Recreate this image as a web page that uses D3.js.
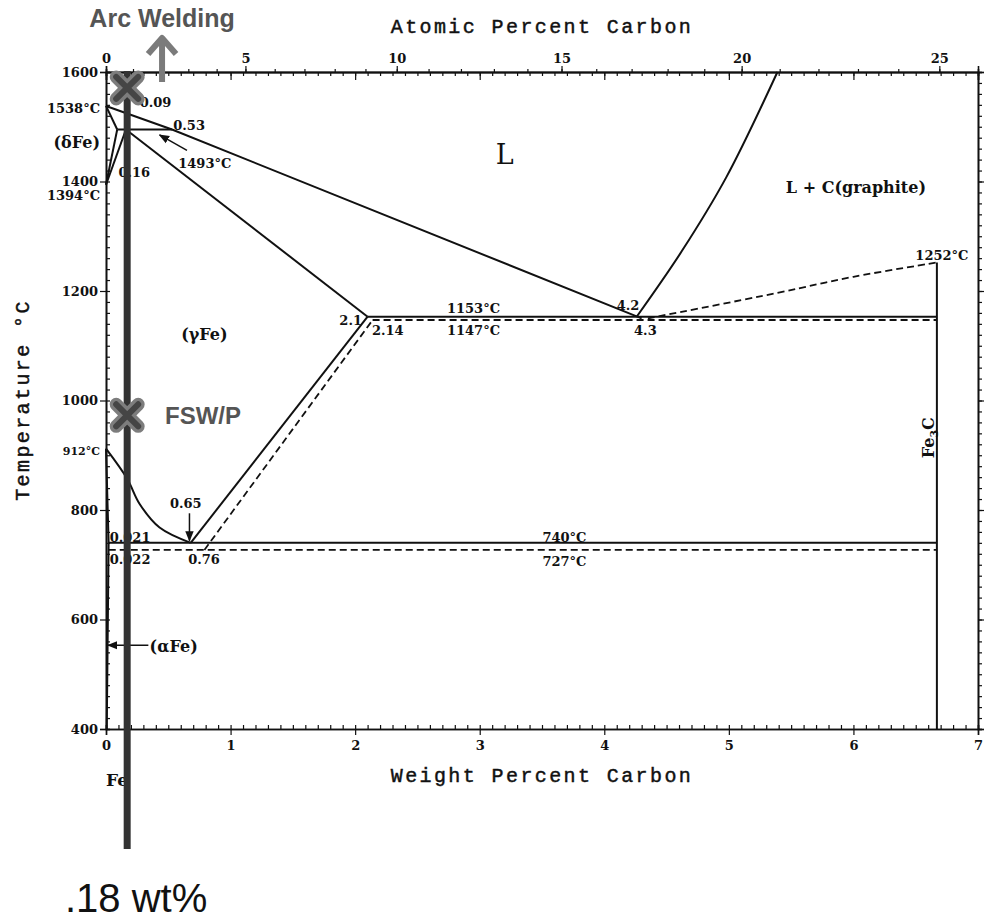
<!DOCTYPE html>
<html>
<head>
<meta charset="utf-8">
<script src="https://cdn.jsdelivr.net/npm/d3@7"></script>
<style>
  body { margin: 0; background: #fff; }
  svg text { font-family: "DejaVu Serif", serif; fill: #111; }
  .tick text { font-family: "DejaVu Serif", serif; font-weight: bold; font-size: 13px; }
  .axis path, .axis line { stroke: #111; }
  .axis-title { font-family: "Liberation Mono", monospace !important; font-size: 20px; letter-spacing: 2.4px; stroke: #111; stroke-width: 0.45px; }
  .lbl { font-weight: bold; font-size: 13px; }
  .phase { font-weight: bold; font-size: 16px; }
  .overlay { font-family: "Liberation Sans", Arial, sans-serif !important; font-weight: bold; fill: #555 !important; }
</style>
</head>
<body>
<svg id="chart" width="984" height="920"></svg>
<script>
// 目盛り
const tempTicks = [400, 600, 800, 1000, 1200, 1400, 1600];
const wtTicks = [0, 1, 2, 3, 4, 5, 6, 7];
const atTicks = [0, 5, 10, 15, 20, 25];

// 相境界 [wt% C, °C]
const liquidus = [[0, 1538], [0.53, 1495], [4.3, 1150]];
const deltaSolidus = [[0, 1538], [0.09, 1495]];
const deltaGamma = [[0.09, 1495], [0, 1394]];
const gammaDelta = [[0.16, 1495], [0, 1394]];
const peritectic = [[0.09, 1495], [0.53, 1495]];
const gammaSolidus = [[0.16, 1495], [2.1, 1153]];
const graphiteLiquidus = [[4.26, 1153], [4.62, 1272], [4.98, 1408], [5.39, 1600]];
const graphiteSolvus = [[4.35, 1150], [5.4, 1197], [6.0, 1226], [6.67, 1252]];
const cementite = [[6.67, 400], [6.67, 1252]];
const eutecticSolid = [[2.1, 1153], [6.67, 1153]];
const eutecticDashed = [[2.14, 1147], [6.67, 1147]];
const a3Line = [[0, 912], [0.17, 857], [0.27, 811], [0.43, 768], [0.68, 740]];
const acmSolid = [[0.68, 740], [2.1, 1153]];
const acmDashed = [[0.79, 727], [2.14, 1147]];
const eutectoidSolid = [[0.021, 740], [6.67, 740]];
const eutectoidDashed = [[0.022, 727], [6.67, 727]];
const alphaSolvus = [[0, 912], [0.021, 740], [0.006, 400]];

const solidLines = [liquidus, deltaSolidus, deltaGamma, gammaDelta, peritectic, gammaSolidus,
  graphiteLiquidus, cementite, eutecticSolid, a3Line, acmSolid, eutectoidSolid, alphaSolvus];
const dashedLines = [graphiteSolvus, eutecticDashed, acmDashed, eutectoidDashed];
const curvedLines = [a3Line, graphiteLiquidus, graphiteSolvus];

// ラベル [テキスト, wt%, °C]
const labelsStart = [['0.09', 0.27, 1536], ['0.53', 0.54, 1494], ['1493°C', 0.58, 1425], ['0.16', 0.10, 1408],
  ['2.14', 2.135, 1120], ['0.021', 0.03, 742], ['0.022', 0.03, 701], ['0.76', 0.66, 701]];
const labelsMiddle = [['1153°C', 2.95, 1160], ['1147°C', 2.95, 1120], ['4.2', 4.19, 1165], ['4.3', 4.33, 1120],
  ['1252°C', 6.71, 1257], ['0.65', 0.64, 803], ['740°C', 3.68, 742], ['727°C', 3.68, 698]];
const labelsEnd = [['2.1', 2.055, 1138], ['1538°C', -0.048, 1525], ['1394°C', -0.048, 1366], ['912°C', -0.048, 900]];
const phaseNames = [['(γFe)', 0.79, 1110], ['L + C(graphite)', 6.02, 1379]];
const arrows = [[[0.65, 1457], [0.43, 1485]], [[0.67, 794], [0.67, 744]], [[0.34, 553], [0.015, 553]]];

// 溶接の注記
const weldBarWt = 0.17;
const weldLabel = '.18 wt%';
const processMarks = [['Arc Welding', 1571], ['FSW/P', 973]];

const svg = d3.select('#chart');
const x = d3.scaleLinear().domain([0, 7]).range([106, 978]);
const y = d3.scaleLinear().domain([400, 1600]).range([729, 72]);
const atToWt = a => 100 * a * 12.011 / (a * 12.011 + (100 - a) * 55.845);
const wtToAt = w => 100 * (w / 12.011) / (w / 12.011 + (100 - w) / 55.845);
const minorWt = d3.range(0, 71).map(i => i / 10);
const minorT = d3.range(400, 1601, 20);
const minorAt = d3.range(0, 26);

svg.append('defs').append('marker')
  .attr('id', 'head').attr('viewBox', '0 0 10 10').attr('refX', 9).attr('refY', 5)
  .attr('markerWidth', 7).attr('markerHeight', 7).attr('orient', 'auto')
  .append('path').attr('d', 'M0,1L10,5L0,9Z').attr('fill', '#111');

// 軸
function axisGroup(axis, tx, ty) {
  const g = svg.append('g').attr('class', 'axis').attr('transform', `translate(${tx},${ty})`).call(axis);
  g.select('.domain').attr('stroke-width', 1.6);
  g.selectAll('.tick line').attr('stroke-width', 1.2);
  return g;
}
const fmt = d3.format('d');
// 左
axisGroup(d3.axisRight(y).tickValues(minorT).tickSize(4).tickFormat(''), 106, 0);
axisGroup(d3.axisLeft(y).tickValues(tempTicks).tickSize(6).tickPadding(2).tickFormat(fmt), 106, 0);
// 右
axisGroup(d3.axisRight(y).tickValues(minorT).tickSize(4).tickFormat(''), 978, 0);
axisGroup(d3.axisRight(y).tickValues(tempTicks).tickSize(8).tickFormat(''), 978, 0);
// 下
axisGroup(d3.axisTop(x).tickValues(minorWt).tickSize(4).tickFormat(''), 0, 729);
axisGroup(d3.axisBottom(x).tickValues(wtTicks).tickSize(6).tickPadding(6).tickFormat(fmt), 0, 729);
// 上
axisGroup(d3.axisBottom(x).tickValues(minorWt).tickSize(4).tickFormat(''), 0, 72);
axisGroup(d3.axisBottom(x).tickValues(wtTicks).tickSize(8).tickFormat(''), 0, 72);
axisGroup(d3.axisTop(x).tickValues(minorAt.map(atToWt)).tickSize(3).tickFormat(''), 0, 72);
axisGroup(d3.axisTop(x).tickValues(atTicks.map(atToWt)).tickSize(6).tickPadding(3)
  .tickFormat(d => Math.round(wtToAt(d))), 0, 72);

svg.append('text').attr('class', 'axis-title').attr('x', 542).attr('y', 33)
  .attr('text-anchor', 'middle').text('Atomic Percent Carbon');
svg.append('text').attr('class', 'axis-title').attr('x', 542).attr('y', 782)
  .attr('text-anchor', 'middle').text('Weight Percent Carbon');
svg.append('text').attr('class', 'axis-title')
  .attr('transform', 'translate(29,400) rotate(-90)').attr('text-anchor', 'middle').text('Temperature °C');
svg.append('text').attr('class', 'phase').attr('x', x(0)).attr('y', 786).style('font-size', '17px').text('Fe');

// 相境界線
const line = d3.line().x(d => x(d[0])).y(d => y(d[1]));
const curve = d3.line().x(d => x(d[0])).y(d => y(d[1])).curve(d3.curveCatmullRom);
const pathOf = d => curvedLines.includes(d) ? curve(d) : line(d);
svg.append('g').selectAll('path').data(solidLines).join('path')
  .attr('d', pathOf)
  .attr('fill', 'none').attr('stroke', '#111').attr('stroke-width', 2);
svg.append('g').selectAll('path').data(dashedLines).join('path')
  .attr('d', pathOf)
  .attr('fill', 'none').attr('stroke', '#111').attr('stroke-width', 1.8).attr('stroke-dasharray', '7,4');

svg.append('g').selectAll('line').data(arrows).join('line')
  .attr('x1', d => x(d[0][0])).attr('y1', d => y(d[0][1]))
  .attr('x2', d => x(d[1][0])).attr('y2', d => y(d[1][1]))
  .attr('stroke', '#111').attr('stroke-width', 1.5).attr('marker-end', 'url(#head)');

// ラベル
[[labelsStart, 'start'], [labelsMiddle, 'middle'], [labelsEnd, 'end']].forEach(([arr, anchor]) => {
  svg.append('g').selectAll('text').data(arr).join('text')
    .attr('class', 'lbl').attr('text-anchor', anchor)
    .attr('x', d => x(d[1])).attr('y', d => y(d[2])).text(d => d[0]);
});
svg.selectAll('.lbl').filter(d => d[0] === '912°C').style('font-size', '11px');
svg.append('g').selectAll('text').data(phaseNames).join('text')
  .attr('class', 'phase').attr('text-anchor', 'middle')
  .attr('x', d => x(d[1])).attr('y', d => y(d[2])).text(d => d[0]);
svg.append('text').attr('class', 'phase').attr('text-anchor', 'end')
  .attr('x', x(-0.048)).attr('y', y(1461)).text('(δFe)');
svg.append('text').attr('class', 'phase').attr('x', x(0.35)).attr('y', y(540)).text('(αFe)');
svg.append('text').attr('x', x(3.2)).attr('y', y(1432)).attr('text-anchor', 'middle')
  .style('font-size', '27px').text('L');
const fe3c = svg.append('text').attr('class', 'phase').attr('text-anchor', 'middle')
  .attr('transform', `translate(${x(6.6) + 6},${y(932)}) rotate(-90)`);
fe3c.append('tspan').text('Fe');
fe3c.append('tspan').attr('dy', 4).style('font-size', '11px').text('3');
fe3c.append('tspan').attr('dy', -4).text('C');

// 溶接の注記
const barX = x(weldBarWt);
svg.append('line').attr('x1', barX).attr('x2', barX).attr('y1', y(1600) - 1).attr('y2', y(400) + 120)
  .attr('stroke', '#333').attr('stroke-width', 7);
const marks = svg.append('g').selectAll('g').data(processMarks).join('g')
  .attr('transform', d => `translate(${barX},${y(d[1])})`);
[['#7d7d7d', 13], ['#454545', 6]].forEach(([c, w]) => {
  marks.append('path').attr('d', 'M-11,-11L11,11M-11,11L11,-11')
    .attr('stroke', c).attr('stroke-width', w).attr('stroke-linecap', 'round').attr('fill', 'none');
});
svg.append('text').attr('class', 'overlay').attr('x', x(0.45)).attr('y', 27)
  .attr('text-anchor', 'middle').style('font-size', '25px').text(processMarks[0][0]);
svg.append('text').attr('class', 'overlay').attr('x', 165).attr('y', y(processMarks[1][1]) + 9)
  .style('font-size', '24px').text(processMarks[1][0]);
const arcX = x(0.45);
svg.append('path').attr('d', `M${arcX},82V38M${arcX - 14},54L${arcX},38L${arcX + 14},54`)
  .attr('fill', 'none').attr('stroke', '#7b7b7b').attr('stroke-width', 6).attr('stroke-linejoin', 'round');
svg.append('text').attr('x', 65).attr('y', 912).style('font-family', '"Liberation Sans", Arial, sans-serif')
  .style('font-size', '40px').text(weldLabel);
</script>
</body>
</html>
